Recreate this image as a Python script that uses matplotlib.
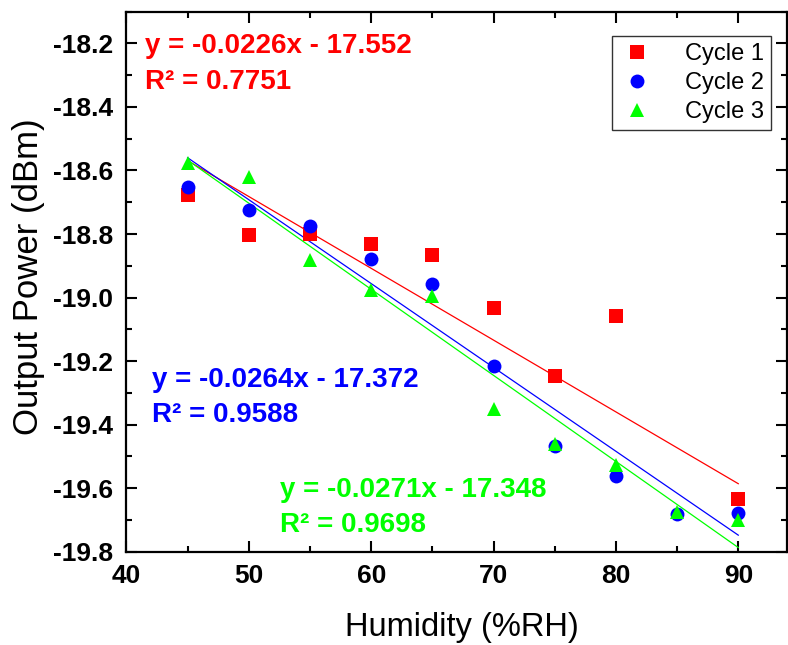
import matplotlib
matplotlib.use("Agg")
import matplotlib.pyplot as plt
import numpy as np
from matplotlib.ticker import MultipleLocator, FormatStrFormatter

plt.rcParams['font.family'] = ['Liberation Sans', 'DejaVu Sans']

# ---- data ----
x_c1 = [45, 50, 55, 60, 65, 70, 75, 80, 90]
y_c1 = [-18.677, -18.802, -18.800, -18.830, -18.865, -19.032, -19.246, -19.057, -19.633]

x_c2 = [45, 50, 55, 60, 65, 70, 75, 80, 85, 90]
y_c2 = [-18.651, -18.725, -18.775, -18.880, -18.958, -19.217, -19.468, -19.563, -19.682, -19.679]

x_c3 = [45, 50, 55, 60, 65, 70, 75, 80, 85, 90]
y_c3 = [-18.577, -18.620, -18.883, -18.976, -18.996, -19.352, -19.462, -19.526, -19.676, -19.700]

labels = ["Cycle 1", "Cycle 2", "Cycle 3"]
slopes = [-0.0226, -0.0264, -0.0271]
intercepts = [-17.552, -17.372, -17.348]
r2 = ["0.7751", "0.9588", "0.9698"]
fit_range = [45, 90]

colors = ["#ff0000", "#0000ff", "#00ff00"]
markers = ["s", "o", "^"]
msizes = [9.5, 10, 10.5]

fig = plt.figure(figsize=(7.88, 6.45), dpi=100)
ax = fig.add_axes([0.1605, 0.1447, 0.8385, 0.8372])

for xs, ys, c, m, ms, lab in zip([x_c1, x_c2, x_c3], [y_c1, y_c2, y_c3],
                                  colors, markers, msizes, labels):
    ax.plot(xs, ys, linestyle='none', marker=m, color=c, markersize=ms,
            markeredgewidth=0, label=lab, zorder=3)

xf = np.array(fit_range, dtype=float)
for a, b, c in zip(slopes, intercepts, colors):
    ax.plot(xf, a * xf + b, color=c, linewidth=0.9, zorder=2)

ax.set_xlim(40, 94)
ax.set_ylim(-19.8, -18.1)
ax.xaxis.set_major_locator(MultipleLocator(10))
ax.xaxis.set_minor_locator(MultipleLocator(5))
ax.yaxis.set_major_locator(MultipleLocator(0.2))
ax.yaxis.set_minor_locator(MultipleLocator(0.1))
ax.yaxis.set_major_formatter(FormatStrFormatter('%.1f'))

ax.tick_params(which='both', direction='in', top=True, right=True, width=1.5)
ax.tick_params(which='major', length=8, labelsize=19)
ax.tick_params(axis='x', which='major', pad=9)
ax.tick_params(axis='y', which='major', pad=9.5)
ax.tick_params(which='minor', length=4.5)
for lbl in ax.get_xticklabels() + ax.get_yticklabels():
    lbl.set_fontweight('bold')
for s in ax.spines.values():
    s.set_linewidth(1.6)

ax.set_xlabel("Humidity (%RH)", fontsize=23.5, va='center')
ax.xaxis.set_label_coords(0.508, -0.14)
ax.set_ylabel("Output Power (dBm)", fontsize=25, va='center')
ax.yaxis.set_label_coords(-0.148, 0.51)

# equation annotations (positions in axes fraction)
eq_pos = [(145, 46, 82), (152, 380, 415), (280, 490, 525)]
for (px, py1, py2), a, b, r, c in zip(eq_pos, slopes, intercepts, r2, colors):
    fx = (px - 126.5) / 661.0
    fy1 = (551.7 - py1) / 540.0
    fy2 = (551.7 - py2) / 540.0
    ax.text(fx, fy1, f"y = {a:.4f}x - {abs(b):.3f}", transform=ax.transAxes,
            color=c, fontsize=20, fontweight='bold', va='center', ha='left')
    ax.text(fx, fy2, f"R² = {r}", transform=ax.transAxes,
            color=c, fontsize=20, fontweight='bold', va='center', ha='left')

leg = ax.legend(loc='upper right', bbox_to_anchor=(0.976, 0.955), fontsize=17,
                frameon=True, fancybox=False, edgecolor='black',
                borderpad=0.3, labelspacing=0.3, handletextpad=1.3,
                handlelength=1.5, borderaxespad=0)
leg.get_frame().set_linewidth(1.0)

fig.savefig("out.png", dpi=100)
